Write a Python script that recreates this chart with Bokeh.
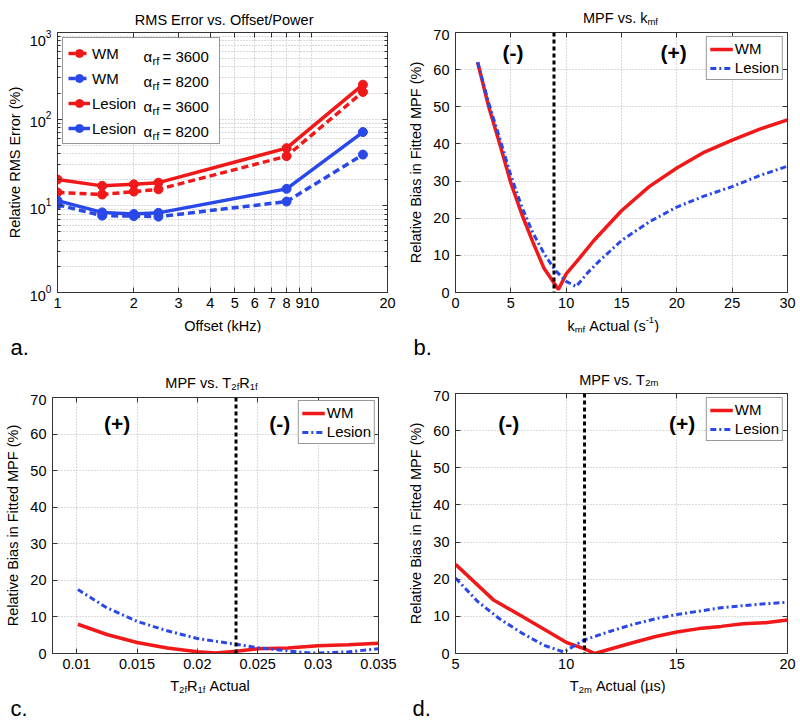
import math
from bokeh.plotting import figure
from bokeh.layouts import column, row, Spacer
from bokeh.models import (Label, Legend, LegendItem, Span, FixedTicker, SingleIntervalTicker,
                          LinearAxis, LogAxis, NumeralTickFormatter, Title, BoxAnnotation)
from bokeh.embed import file_html
from bokeh.resources import INLINE

# ---------------- data ----------------
# Panel a: RMS error vs offset
offset_khz = [1, 1.5, 2, 2.5, 8, 16]
wm_3600 = [14.3, 13.5, 14.6, 15.5, 37.4, 206]
wm_8200 = [10.3, 7.7, 7.6, 7.5, 11.2, 39]
lesion_3600 = [20.1, 17.0, 17.7, 18.5, 46.3, 250]
lesion_8200 = [11.5, 8.4, 8.05, 8.3, 15.7, 71]

# Panel b: MPF bias vs kmf
b_wm_x = [2, 3, 4, 5, 6, 7, 8, 9.3, 10, 11, 12.5, 15, 17.5, 20, 22.5, 25, 27.5, 30]
b_wm_y = [62, 50, 40, 29.5, 21, 13.5, 6.5, 0.8, 5, 8.5, 14, 22, 28.5, 33.5, 37.8, 41, 44, 46.5]
b_les_x = [2, 3, 4, 5, 6, 7, 8, 9, 10, 10.9, 12, 13, 15, 17.5, 20, 22.5, 25, 27.5, 30]
b_les_y = [62, 51, 41.5, 31.5, 23, 16, 10.5, 6, 3, 1.6, 5.5, 8.5, 14, 19, 23, 26, 28.5, 31.5, 34]
b_true = 8.9

# Panel c: MPF bias vs T2fR1f
c_wm_x = [0.0101, 0.0125, 0.015, 0.0175, 0.02, 0.0215, 0.0232, 0.025, 0.0275, 0.03, 0.0325, 0.035]
c_wm_y = [8, 5.2, 3, 1.5, 0.5, 0.15, 0.6, 1.3, 1.5, 2.1, 2.4, 2.8]
c_les_x = [0.0101, 0.0125, 0.015, 0.0175, 0.02, 0.0232, 0.025, 0.0275, 0.0295, 0.0325, 0.035]
c_les_y = [17.5, 12.5, 8.8, 6.2, 4.1, 2.5, 1.6, 0.7, 0.1, 0.45, 1.3]
c_true = 0.0232

# Panel d: MPF bias vs T2m
d_wm_x = [5, 6.7, 8, 9, 10, 10.8, 11.3, 12, 13, 14, 15, 16, 17, 18, 19, 20]
d_wm_y = [24, 14.5, 10, 6.5, 3, 1.3, 0, 1.2, 2.9, 4.5, 5.8, 6.7, 7.3, 8, 8.3, 9]
d_les_x = [5, 6, 7, 8, 9, 9.9, 10.8, 12, 13, 14, 15, 16, 17, 18, 19, 20]
d_les_y = [20.3, 14, 9.3, 5.5, 2.2, 0.4, 3.6, 6, 7.8, 9.3, 10.5, 11.4, 12.3, 12.9, 13.4, 13.8]
d_true = 10.83

# ---------------- style ----------------
FONT = "Liberation Sans"
RED = "#f01818"
BLUE = "#2a48e8"
AX = "#333333"
GRID = "#b4b4b4"
TS = "14.5px"

WID = {' ': 278, '(': 333, ')': 333, '-': 333, '.': 278, '%': 889, '/': 278, '=': 584, '+': 584,
       'A': 667, 'B': 667, 'E': 667, 'F': 611, 'H': 722, 'M': 833, 'O': 778, 'P': 667, 'R': 722,
       'S': 667, 'T': 611, 'W': 944, 'L': 556, 'a': 556, 'c': 500, 'd': 556, 'e': 556, 'f': 278,
       'i': 222, 'k': 500, 'l': 222, 'm': 833, 'n': 556, 'o': 556, 'r': 333, 's': 500, 't': 278,
       'u': 556, 'v': 500, 'w': 722, 'z': 500, 'µ': 556, 'α': 578}


def tw(s, size):
    return sum(WID.get(ch, 556) for ch in s) * size / 1000.0


def lab(p, x, y, text, size=14.5, align="left", **kw):
    p.add_layout(Label(x=x, y=y, x_units="screen", y_units="screen", text=text,
                       text_font=FONT, text_font_size=f"{size}px", text_align=align,
                       text_baseline="alphabetic", text_color="black", **kw))


def rich(p, xc, y, pieces):
    total = sum(tw(t, s) for t, s, d in pieces)
    x = xc - total / 2.0
    for t, s, d in pieces:
        core = t.lstrip(" ")
        x += tw(t[:len(t) - len(core)], s)
        lab(p, x, y + d, core, size=s)
        x += tw(core, s)


def strip(h, letter=None, letter_dx=0):
    s = figure(width=400, height=h, min_border=0, x_range=(0, 400), y_range=(0, h),
               x_axis_location=None, y_axis_location=None, toolbar_location=None,
               output_backend="svg", outline_line_color=None)
    s.grid.visible = False
    if letter is not None:
        s.min_border_bottom = 28
        s.add_layout(Title(text=letter, align="left", offset=letter_dx, standoff=0,
                           text_font=FONT, text_font_size="22px", text_font_style="normal",
                           text_color="black"), "below")
    return s


def style(p, ylabel, log_x=False, log_y=False, xticker=None, yticker=None, ylab_standoff=6):
    p.outline_line_color = AX
    p.outline_line_width = 1
    for ax in p.axis:
        ax.axis_line_color = AX
        ax.major_tick_line_color = AX
        ax.minor_tick_line_color = AX
        ax.major_tick_in = 5
        ax.major_tick_out = 0
        ax.minor_tick_in = 3
        ax.minor_tick_out = 0
        ax.major_label_text_font = FONT
        ax.major_label_text_font_size = TS
        ax.major_label_text_color = "black"
        ax.major_label_standoff = 6
    p.xaxis.ticker = xticker
    p.yaxis.ticker = yticker
    p.xgrid.ticker = xticker
    p.ygrid.ticker = yticker
    p.xaxis.major_label_standoff = 5
    ya = p.left[0]
    ya.axis_label = ylabel
    ya.axis_label_text_font = FONT
    ya.axis_label_text_font_size = TS
    ya.axis_label_text_font_style = "normal"
    ya.axis_label_text_color = "black"
    ya.axis_label_standoff = ylab_standoff
    for g in p.grid:
        g.grid_line_color = GRID
        g.grid_line_dash = "1 2"
        g.grid_line_width = 1
    if not log_x:
        p.xaxis.minor_tick_line_color = None
    if not log_y:
        p.yaxis.minor_tick_line_color = None
    AxR = LogAxis if log_y else LinearAxis
    AxT = LogAxis if log_x else LinearAxis
    common = dict(major_label_text_font_size="1px", major_label_text_alpha=0.0,
                  major_label_standoff=0, axis_line_color=None, major_tick_in=5,
                  major_tick_out=0, minor_tick_out=0, major_tick_line_color=AX)
    p.add_layout(AxR(ticker=yticker, minor_tick_in=3 if log_y else 0,
                     minor_tick_line_color=AX if log_y else None, **common), "right")
    p.add_layout(AxT(ticker=xticker, minor_tick_in=3 if log_x else 0,
                     minor_tick_line_color=AX if log_x else None, **common), "above")


def mkfig(fw, fh, bl, br, xr, yr, xtype="linear", ytype="linear"):
    return figure(frame_width=fw, frame_height=fh, min_border_left=bl, min_border_right=br,
                  min_border_top=3, min_border_bottom=22, x_range=xr, y_range=yr,
                  x_axis_type=xtype, y_axis_type=ytype, output_backend="svg",
                  toolbar_location=None, background_fill_color="white",
                  border_fill_color="white")


def small_legend(p, r1, r2, margin):
    leg = Legend(items=[LegendItem(label="WM", renderers=[r1]),
                        LegendItem(label="Lesion", renderers=[r2])],
                 location="top_right", margin=margin, padding=3, spacing=2,
                 glyph_width=23, glyph_height=16, label_height=16, label_standoff=2,
                 label_text_font=FONT, label_text_font_size="15px", label_text_color="black",
                 border_line_color=AX, border_line_width=1,
                 background_fill_color="white", background_fill_alpha=1.0)
    p.add_layout(leg)


def signs(p, x1, t1, x2, t2, y):
    for x, t in ((x1, t1), (x2, t2)):
        p.add_layout(Label(x=x, y=y, text=t, text_font=FONT, text_font_size="21px",
                           text_font_style="bold", text_align="center", text_baseline="middle",
                           text_color="black"))


def vline(p, loc):
    p.add_layout(Span(location=loc, dimension="height", line_color="black",
                      line_width=3, line_dash="4 3"))


YLAB = "Relative Bias in Fitted MPF (%)"

# ---------------- panel a (frame left at x=57) ----------------
ta = strip(29)
pa = mkfig(330, 260, 57, 13, (1, 20), (1, 1000), "log", "log")
xa = strip(46, "a.", -47)
xt_a = FixedTicker(ticks=[1, 2, 3, 4, 5, 6, 7, 8, 9, 10, 20], minor_ticks=[])
yt_a = FixedTicker(ticks=[1, 10, 100, 1000],
                   minor_ticks=[m * d for d in (1, 10, 100) for m in range(2, 10)])
style(pa, "Relative RMS Error (%)", True, True, xt_a, yt_a, ylab_standoff=4)
pa.below[0].formatter = NumeralTickFormatter(format="0")
pa.ygrid.minor_grid_line_color = GRID
pa.ygrid.minor_grid_line_dash = "1 2"

series_a = [
    ("WM", wm_3600, RED, "7 4"),
    ("WM", wm_8200, BLUE, "7 4"),
    ("Lesion", lesion_3600, RED, "solid"),
    ("Lesion", lesion_8200, BLUE, "solid"),
]
items = []
for name, ys, col, dash in series_a:
    ln = pa.line(offset_khz, ys, line_color=col, line_width=3.5, line_dash=dash)
    sc = pa.scatter(offset_khz, ys, marker="circle", size=9, fill_color=col, line_color=col)
    items.append(LegendItem(label=name, renderers=[ln, sc]))

# white backing for the legend box, then the alpha texts, then a transparent legend on top
pa.add_layout(BoxAnnotation(left=5, right=161, top=255, bottom=150, left_units="screen",
                            right_units="screen", top_units="screen", bottom_units="screen",
                            fill_color="white", fill_alpha=1.0, line_color=None))
alpha_vals = ["= 3600", "= 8200", "= 3600", "= 8200"]
for i, txt in enumerate(alpha_vals):
    yc = 52 + 25 * i  # page y of legend row centre
    lab(pa, 86, 292 - (yc + 4), "α", size=15)
    lab(pa, 95, 292 - (yc + 8), "rf", size=11)
    lab(pa, 105, 292 - (yc + 4), txt, size=15)
leg_a = Legend(items=items, location="top_left", margin=5, padding=5, spacing=5,
               glyph_width=22, glyph_height=20, label_height=20, label_width=122,
               label_standoff=2, label_text_font=FONT, label_text_font_size="15px",
               label_text_color="black", border_line_color=AX, border_line_width=1,
               background_fill_alpha=0.0)
pa.add_layout(leg_a)

rich(ta, 166.8, 9.7, [("RMS Error vs. Offset/Power", 14.5, 0)])
rich(xa, 165.5, 7, [("Offset (kHz)", 14.5, 0)])

# ---------------- panel b (frame left at x=455) ----------------
tb = strip(29)
pb = mkfig(332, 260, 55, 13, (0, 30), (0, 70))
xb = strip(46, "b.", -42)
style(pb, YLAB, xticker=SingleIntervalTicker(interval=5), yticker=SingleIntervalTicker(interval=10))
vline(pb, b_true)
rb1 = pb.line(b_wm_x, b_wm_y, line_color=RED, line_width=3.5)
rb2 = pb.line(b_les_x, b_les_y, line_color=BLUE, line_width=3, line_dash="6 3 2 3")
small_legend(pb, rb1, rb2, 4)
signs(pb, 5.2, "(-)", 19.7, "(+)", 64.5)
rich(tb, 165, 11.7, [("MPF vs. k", 14.5, 0), ("mf", 9.5, -3.4)])
rich(xb, 157.7, 7, [("k", 14.5, 0), ("mf", 9.5, -3.5), (" Actual (s", 14.5, 0),
                    ("-1", 9.5, 6), (")", 14.5, 0)])

# ---------------- panel c (frame left at x=52) ----------------
tc = strip(34)
pc = mkfig(326, 256, 52, 22, (0.008, 0.035), (0, 70))
xc = strip(46, "c.", -42)
style(pc, YLAB, xticker=FixedTicker(ticks=[0.01, 0.015, 0.02, 0.025, 0.03, 0.035]),
      yticker=SingleIntervalTicker(interval=10))
pc.below[0].formatter = NumeralTickFormatter(format="0.[000]")
vline(pc, c_true)
rc1 = pc.line(c_wm_x, c_wm_y, line_color=RED, line_width=3.5)
rc2 = pc.line(c_les_x, c_les_y, line_color=BLUE, line_width=3, line_dash="6 3 2 3")
small_legend(pc, rc1, rc2, 3)
signs(pc, 0.01336, "(+)", 0.02683, "(-)", 62.8)
rich(tc, 159, 11.3, [("MPF vs. T", 14.5, 0), ("2f", 9.5, -3.4), ("R", 14.5, 0), ("1f", 9.5, -3.4)])
rich(xc, 157.5, 8, [("T", 14.5, 0), ("2f", 9.5, -3.5), ("R", 14.5, 0), ("1f", 9.5, -3.5),
                    (" Actual", 14.5, 0)])

# ---------------- panel d (frame left at x=455) ----------------
td = strip(30)
pd = mkfig(332, 260, 55, 13, (5, 20), (0, 70))
xd = strip(46, "d.", -43)
style(pd, YLAB, xticker=SingleIntervalTicker(interval=5), yticker=SingleIntervalTicker(interval=10))
vline(pd, d_true)
rd1 = pd.line(d_wm_x, d_wm_y, line_color=RED, line_width=3.5)
rd2 = pd.line(d_les_x, d_les_y, line_color=BLUE, line_width=3, line_dash="6 3 2 3")
small_legend(pd, rd1, rd2, 4)
signs(pd, 7.41, "(-)", 15.24, "(+)", 62)
rich(td, 163.3, 11, [("MPF vs. T", 14.5, 0), ("2m", 9.5, -3.4)])
rich(xd, 162, 8, [("T", 14.5, 0), ("2m", 9.5, -3.5), (" Actual (µs)", 14.5, 0)])

layout = column(row(column(ta, pa, xa), column(tb, pb, xb)),
                row(column(tc, pc, xc, Spacer(width=400, height=4)),
                    column(td, pd, xd, Spacer(width=400, height=4))))
open("out.html", "w").write(file_html(layout, INLINE))
